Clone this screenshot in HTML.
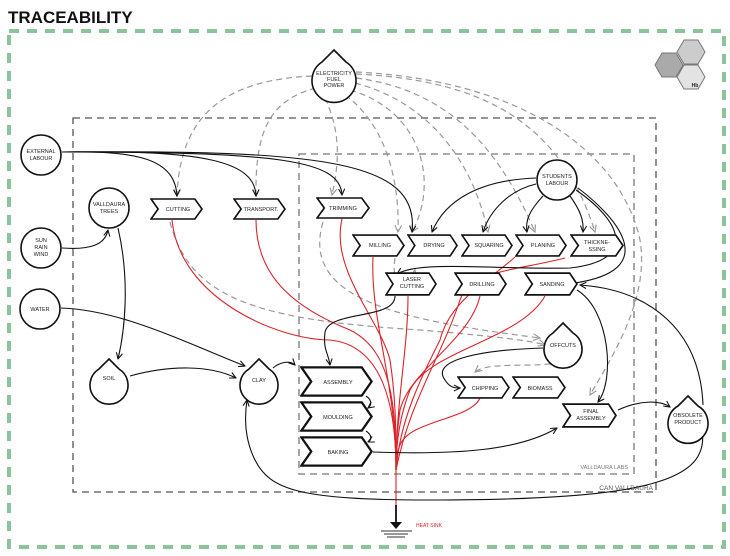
<!DOCTYPE html>
<html><head><meta charset="utf-8"><style>
html,body{margin:0;padding:0;background:#fff;}
svg{display:block;}
text{font-family:"Liberation Sans",sans-serif;font-size:5.5px;fill:#222;text-anchor:middle;}
</style></head><body>
<svg width="730" height="556" viewBox="0 0 730 556" xmlns="http://www.w3.org/2000/svg">
<defs>
<marker id="a" viewBox="0 0 10 10" refX="9" refY="5" markerWidth="7" markerHeight="7" orient="auto"><path d="M1,1 L9,5 L1,9" fill="none" stroke="#111" stroke-width="1.4"/></marker>
<marker id="g" viewBox="0 0 10 10" refX="9" refY="5" markerWidth="7" markerHeight="7" orient="auto"><path d="M1,1 L9,5 L1,9" fill="none" stroke="#999" stroke-width="1.4"/></marker>
<symbol id="chev" viewBox="0 0 52 22" preserveAspectRatio="none"><path d="M1,1 H44 L51,11 L44,21 H1 L8,11 Z" fill="#fff" stroke="#111" stroke-width="1.6"/></symbol>
</defs>
<text x="8" y="23" style="font-size:17px;font-weight:bold;text-anchor:start;fill:#111">TRACEABILITY</text>
<rect x="9" y="31" width="715" height="516" fill="none" stroke="#8cc49a" stroke-width="4" stroke-dasharray="10,8"/>
<rect x="73" y="118" width="583" height="374" fill="none" stroke="#555" stroke-width="1.3" stroke-dasharray="7,5"/>
<rect x="299" y="154" width="335" height="320" fill="none" stroke="#777" stroke-width="1.3" stroke-dasharray="7,5"/>
<text x="653" y="490" style="font-size:6.5px;fill:#555;text-anchor:end">CAN VALLDAURA</text>
<text x="628" y="469" style="font-size:5.5px;fill:#777;text-anchor:end">VALLDAURA LABS</text>
<g stroke="#777" stroke-width="1" >
<polygon points="655,65 662,53 676,53 683,65 676,77 662,77" fill="#aaa"/>
<polygon points="677,52 684,40 698,40 705,52 698,64 684,64" fill="#ccc"/>
<polygon points="677,77 684,65 698,65 705,77 698,89 684,89" fill="#e3e3e3"/>
</g>
<text x="695" y="87" style="font-size:5px;font-weight:bold">Hb</text>
<g fill="none" stroke="#999" stroke-width="1.2" stroke-dasharray="6,4" marker-end="url(#g)">
<path d="M312,76 C230,80 180,110 177,196"/>
<path d="M316,88 C270,100 255,130 256,196"/>
<path d="M325,98 C340,130 340,160 332,195"/>
<path d="M345,95 C380,120 400,170 398,232"/>
<path d="M350,90 C420,110 440,180 412,232"/>
<path d="M355,83 C420,100 470,150 488,232"/>
<path d="M356,78 C450,90 500,150 535,232"/>
<path d="M356,74 C480,80 560,120 595,232"/>
<path d="M356,72 C520,80 620,150 640,240 C650,300 610,360 590,395"/>
<path d="M170,222 C190,300 260,320 420,330 C480,335 530,340 545,345"/>
<path d="M323,222 C300,300 400,320 540,338"/>
<path d="M395,258 C390,290 410,290 415,270"/>
<path d="M570,360 C540,370 490,360 475,372"/>
</g>
<g fill="none" stroke="#d9232a" stroke-width="1.1">
<path d="M172,220 C180,300 280,340 330,340 C380,345 396,400 396,470"/>
<path d="M256,220 C256,280 300,310 350,330 C390,350 396,400 396,470"/>
<path d="M342,219 C330,270 380,320 390,360 C396,400 396,430 396,470"/>
<path d="M373,257 C370,320 396,380 396,470"/>
<path d="M408,296 C408,350 396,400 396,470"/>
<path d="M480,296 C470,340 410,370 400,410 C396,440 396,450 396,470"/>
<path d="M545,296 C520,340 430,350 410,390 C398,420 396,450 396,470"/>
<path d="M515,257 C490,280 450,300 440,340 C420,380 400,420 396,470"/>
<path d="M565,258 C520,270 470,270 460,300 C440,360 410,400 396,470"/>
<path d="M480,398 C470,420 410,420 400,445 C396,455 396,460 396,470"/>
<path d="M396,470 V515"/>
</g>
<path d="M396,505 V525" stroke="#111" stroke-width="1.8"/>
<polygon points="390,522 402,522 396,529" fill="#111"/>
<line x1="381" y1="531" x2="412" y2="531" stroke="#333" stroke-width="1"/>
<line x1="384" y1="534" x2="408" y2="534" stroke="#333" stroke-width="1"/>
<line x1="387" y1="537" x2="405" y2="537" stroke="#333" stroke-width="1"/>
<text x="416" y="527" style="fill:#d9232a;font-size:5px;text-anchor:start">HEAT SINK</text>
<g fill="none" stroke="#111" stroke-width="1.1" marker-end="url(#a)">
<path d="M62,152 C140,150 175,160 177,196"/>
<path d="M62,152 C200,150 255,160 256,196"/>
<path d="M62,152 C280,152 340,160 342,195"/>
<path d="M62,152 C320,150 420,160 412,232 "/>
<path d="M62,248 C90,250 105,245 108,230"/>
<path d="M118,228 C130,280 125,330 118,359"/>
<path d="M61,308 C120,310 180,340 245,366"/>
<path d="M130,376 C170,365 210,365 236,378"/>
<path d="M273,368 C280,362 290,360 295,365"/>
<path d="M536,178 C480,180 445,200 432,232"/>
<path d="M536,184 C510,190 490,210 483,232"/>
<path d="M543,196 C530,210 525,220 527,232"/>
<path d="M570,196 C580,210 584,220 583,232"/>
<path d="M576,190 C620,220 640,260 570,268 C500,270 420,260 397,274"/>
<path d="M578,188 C620,220 660,270 575,283 C560,292 556,292 548,288"/>
<path d="M395,296 C395,320 330,310 325,332 C323,350 328,352 330,365"/>
<path d="M543,348 C480,350 430,360 445,380 C450,388 455,388 460,388"/>
<path d="M577,290 C610,310 615,380 598,402"/>
<path d="M618,410 C640,400 660,400 670,407"/>
<path d="M703,405 C700,330 650,290 580,285"/>
<path d="M702,430 C710,480 650,500 430,500 C300,500 270,490 255,460 C245,440 244,420 247,400"/>
<path d="M373,452 C460,455 520,450 557,428"/>
<path d="M366,396 C372,400 372,405 368,408"/>
<path d="M366,431 C372,435 372,440 368,442"/>
</g>
<g fill="#fff" stroke="#111" stroke-width="1.6">
<circle cx="41" cy="155" r="20"/>
<circle cx="109" cy="208" r="20"/>
<circle cx="41" cy="248" r="20"/>
<circle cx="40" cy="309" r="20"/>
<circle cx="557" cy="180" r="20"/>
<path d="M334,50 L346,62 A22,22 0 1 1 322,62 Z"/>
<path d="M109,359 L119,369 A19,19 0 1 1 99,369 Z"/>
<path d="M259,359 L269,369 A19,19 0 1 1 249,369 Z"/>
<path d="M563,323 L573,333 A19,19 0 1 1 553,333 Z"/>
<path d="M688,396 L698,406 A20,20 0 1 1 678,406 Z"/>
</g>
<text x="41" y="153">EXTERNAL</text><text x="41" y="160">LABOUR</text>
<text x="109" y="206">VALLDAURA</text><text x="109" y="213">TREES</text>
<text x="41" y="242">SUN</text><text x="41" y="249">RAIN</text><text x="41" y="256">WIND</text>
<text x="40" y="311">WATER</text>
<text x="557" y="178">STUDENTS</text><text x="557" y="185">LABOUR</text>
<text x="334" y="75">ELECTRICITY</text><text x="334" y="81">FUEL</text><text x="334" y="87">POWER</text>
<text x="109" y="380">SOIL</text>
<text x="259" y="382">CLAY</text>
<text x="563" y="347">OFFCUTS</text>
<text x="688" y="417">OBSOLETE</text><text x="688" y="424">PRODUCT</text>
<use href="#chev" x="150" y="198" width="53" height="22"/><text x="178" y="211">CUTTING</text>
<use href="#chev" x="233" y="198" width="53" height="22"/><text x="261" y="211">TRANSPORT.</text>
<use href="#chev" x="316" y="197" width="54" height="22"/><text x="343" y="210">TRIMMING</text>
<use href="#chev" x="352" y="234" width="53" height="23"/><text x="380" y="247">MILLING</text>
<use href="#chev" x="407" y="234" width="51" height="23"/><text x="434" y="247">DRYING</text>
<use href="#chev" x="461" y="234" width="52" height="23"/><text x="489" y="247">SQUARING</text>
<use href="#chev" x="515" y="234" width="52" height="23"/><text x="543" y="247">PLANING</text>
<use href="#chev" x="570" y="234" width="54" height="23"/><text x="597" y="244">THICKNE-</text><text x="597" y="251">SSING</text>
<use href="#chev" x="385" y="272" width="52" height="24"/><text x="412" y="281">LASER</text><text x="412" y="288">CUTTING</text>
<use href="#chev" x="454" y="272" width="53" height="24"/><text x="482" y="286">DRILLING</text>
<use href="#chev" x="524" y="272" width="54" height="24"/><text x="552" y="286">SANDING</text>
<use href="#chev" x="300" y="366" width="73" height="31"/><text x="338" y="384">ASSEMBLY</text>
<use href="#chev" x="300" y="401" width="73" height="31"/><text x="338" y="419">MOULDING</text>
<use href="#chev" x="300" y="436" width="73" height="31"/><text x="338" y="454">BAKING</text>
<use href="#chev" x="457" y="376" width="53" height="23"/><text x="485" y="390">CHIPPING</text>
<use href="#chev" x="512" y="376" width="54" height="23"/><text x="540" y="390">BIOMASS</text>
<use href="#chev" x="562" y="403" width="55" height="25"/><text x="591" y="413">FINAL</text><text x="591" y="420">ASSEMBLY</text>
</svg>
</body></html>
